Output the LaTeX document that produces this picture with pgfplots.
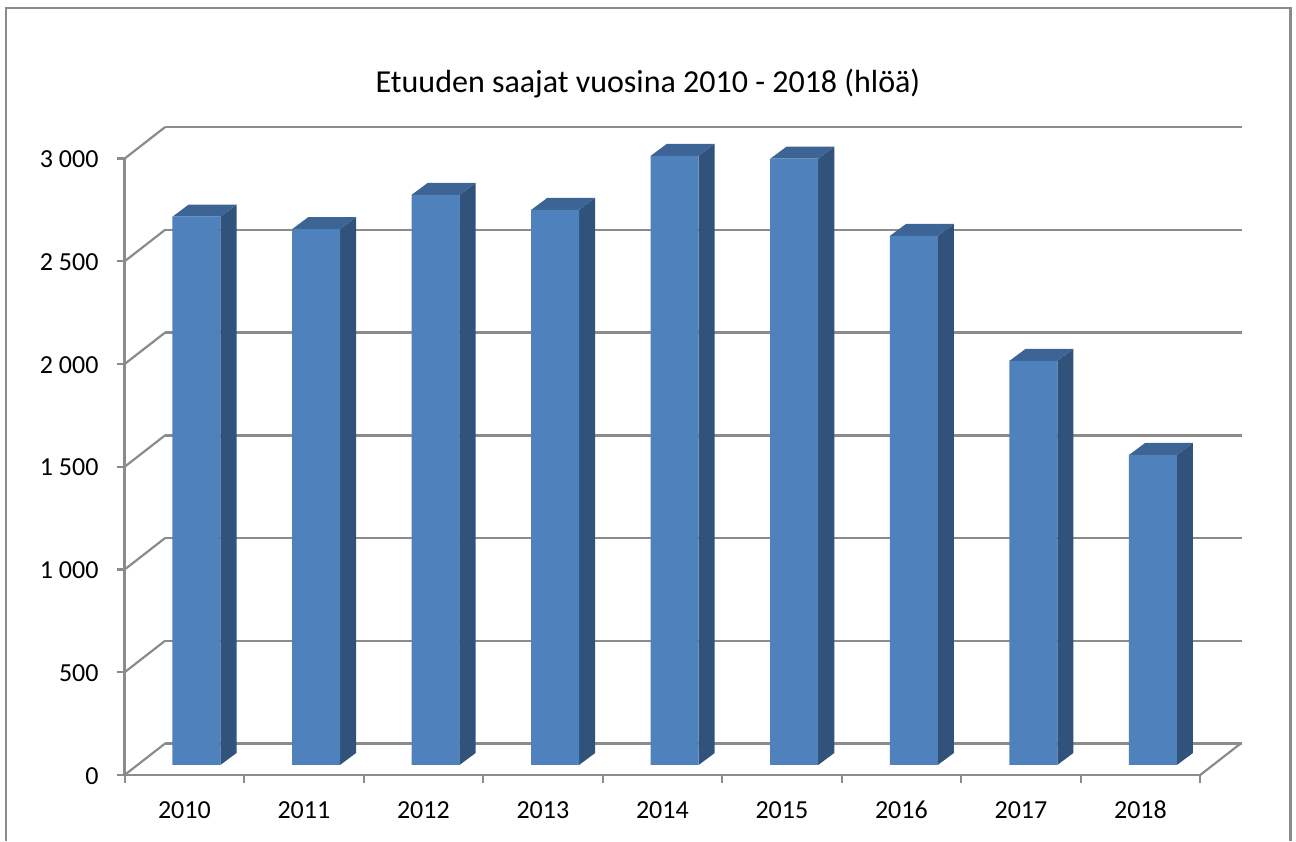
\documentclass[border=0pt]{standalone}
\usepackage{fontspec}
\setmainfont{Carlito}
\usepackage{pgfplots}
\pgfplotsset{compat=1.18}
\definecolor{gridc}{HTML}{8B8B8B}
\definecolor{front}{HTML}{4F81BD}
\definecolor{topc}{HTML}{3C6494}
\definecolor{sidec}{HTML}{30527B}
% one reference pixel is 0.5pt
\newcommand{\barfaces}[2]{%
  \addplot[fill=sidec,draw=none] coordinates {({#1+0.2},0) ({#1+0.335},58.4) ({#1+0.335},{#2+58.4}) ({#1+0.2},#2)} -- cycle;
  \addplot[fill=topc,draw=none] coordinates {({#1-0.2},#2) ({#1-0.065},{#2+58.4}) ({#1+0.335},{#2+58.4}) ({#1+0.2},#2)} -- cycle;
}
\begin{document}
\begin{tikzpicture}
\path[use as bounding box] (0,0) rectangle (648pt,420.5pt);
\draw[gridc,line width=1.1pt] (3pt,0) -- (3pt,416.5pt) -- (645.2pt,416.5pt) -- (645.2pt,0);
\node[font=\fontsize{16pt}{18pt}\selectfont,text=black] at (324pt,378.6pt) {Etuuden saajat vuosina 2010 - 2018 (hlöä)};
% back wall
\begin{axis}[name=back,scale only axis,anchor=south west,at={(82.6pt,48.7pt)},
  width=538.2pt,height=308.2pt,xmin=0,xmax=9,ymin=0,ymax=3000,
  axis line style={draw=none},xtick=\empty,ytick distance=500,yticklabels={},
  major tick length=0pt,ymajorgrids,grid style={gridc,line width=1.3pt}]
\addplot[draw=none] coordinates {(0,0) (9,3000)};
\end{axis}
% front plane with the axes
\begin{axis}[name=main,scale only axis,anchor=south west,at={(62.3pt,33pt)},
  width=537.8pt,height=308.2pt,xmin=0,xmax=9,ymin=0,ymax=3000,clip=false,
  axis x line*=bottom,axis y line*=left,
  axis line style={gridc,line width=1.3pt,-},
  every tick/.style={gridc,line width=1.1pt},
  xtick={0.5,1.5,...,8.5},
  xticklabels={2010,2011,2012,2013,2014,2015,2016,2017,2018},
  minor xtick={0,1,...,9},
  major x tick style={draw=none},
  minor tick length=4pt,
  tick align=outside,
  major tick length=4pt,
  ytick distance=500,
  scaled y ticks=false,
  /pgf/number format/assume math mode=true,
  /pgf/number format/1000 sep={\hspace{0.23em}},
  tick label style={font=\fontsize{13pt}{15pt}\selectfont,text=black},
  typeset ticklabels with strut,
  xticklabel style={yshift=-3.5pt},
  yticklabel style={xshift=-5.5pt,yshift=-1.6pt}]
\pgfplotsinvokeforeach{0,500,1000,1500,2000,2500,3000}{
  \addplot[gridc,line width=1.1pt] coordinates {(0,#1) (0.339,{#1+153.4})};
}
\addplot[gridc,line width=1.1pt] coordinates {(9,0) (9.339,153.4)};
\end{axis}
% bars
\begin{axis}[scale only axis,anchor=south west,at={(68.35pt,38pt)},
  width=538pt,height=308.2pt,xmin=-0.5,xmax=8.5,ymin=0,ymax=3000,clip=false,
  axis line style={draw=none},xtick=\empty,ytick=\empty]
\barfaces{0}{2669}
\barfaces{1}{2608}
\barfaces{2}{2775}
\barfaces{3}{2702}
\barfaces{4}{2965}
\barfaces{5}{2951}
\barfaces{6}{2575}
\barfaces{7}{1967}
\barfaces{8}{1509}
\addplot[ybar,bar width=24pt,bar shift=0pt,fill=front,draw=none] coordinates {
  (0,2669) (1,2608) (2,2775) (3,2702) (4,2965) (5,2951) (6,2575) (7,1967) (8,1509)};
\end{axis}
\end{tikzpicture}
\end{document}
